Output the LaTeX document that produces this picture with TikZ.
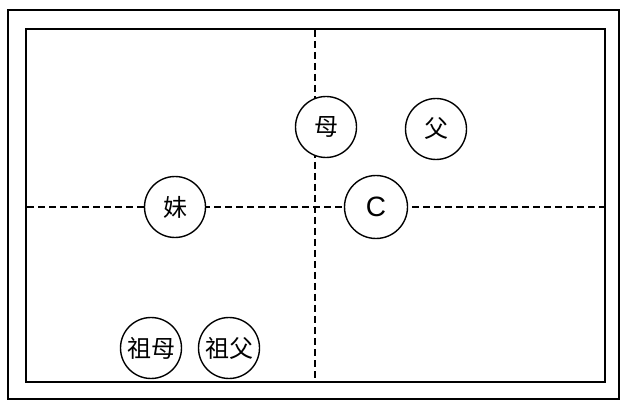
\documentclass[tikz,border=0pt]{standalone}
\usepackage{fontspec}
\newfontfamily\cjk{Noto Sans CJK SC}
\newfontfamily\latinsans{Liberation Sans}
\begin{document}
\begin{tikzpicture}[x=1pt,y=-1pt,
  frame/.style={draw=black,line width=1.8pt},
  axis/.style={draw=black,line width=1.2pt,dash pattern=on 7pt off 4pt},
  person/.style={circle,draw=black,fill=white,line width=1.4pt,minimum size=61pt,inner sep=0pt,font=\cjk\fontsize{24}{26}\selectfont}]
\useasboundingbox (0,0) rectangle (622,401);
\fill[white] (0,0) rectangle (622,401);
\draw[frame] (8,10) rectangle (619,399);
\draw[frame] (26,29) rectangle (605,382);
\coordinate (hl) at (27,207);
\coordinate (hr) at (604,207);
\coordinate (vt) at (315,30);
\coordinate (vb) at (315,381);
\draw[axis] (hl) -- (hr);
\draw[axis] (vt) -- (vb);
\node[person] (mu) at (326,127) {母};
\node[person] (fu) at (436,129) {父};
\node[person,minimum size=63pt,font=\latinsans\fontsize{28}{30}\selectfont] (c) at (376,207) {C};
\node[person] (mei) at (175,207) {妹};
\node[person] (zumu) at (151,348) {祖母};
\node[person] (zufu) at (229,348) {祖父};
\end{tikzpicture}
\end{document}
